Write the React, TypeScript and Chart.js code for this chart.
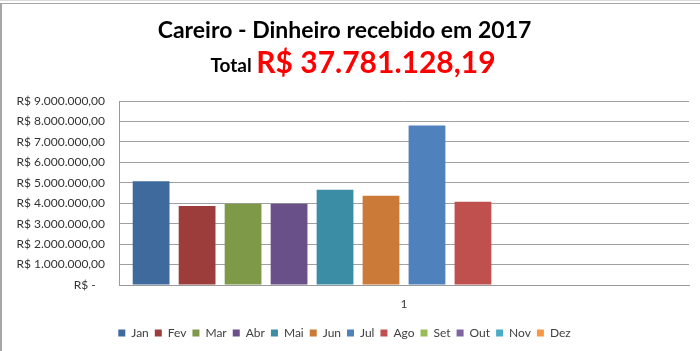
import React, { useEffect, useRef } from "react";
import { Chart, registerables } from "chart.js";

Chart.register(...registerables);

const TITLE = "Careiro - Dinheiro recebido em 2017";
const TOTAL_WORD = "Total ";
const TOTAL_VALUE = "R$ 37.781.128,19";

const categories = ["1"];
const months = ["Jan", "Fev", "Mar", "Abr", "Mai", "Jun", "Jul", "Ago", "Set", "Out", "Nov", "Dez"];
const monthValues = [5080000, 3870000, 3970000, 3970000, 4660000, 4360000, 7800000, 4070000, 0, 0, 0, 0];
const monthColors = [
  "#3E6A9E", "#9C3D3B", "#7E9A48", "#6A5088", "#3A8DA5", "#CC7A38",
  "#4F81BD", "#C0504D", "#9BBB59", "#8064A2", "#4BACC6", "#F79646",
];
const yTicks = [0, 1000000, 2000000, 3000000, 4000000, 5000000, 6000000, 7000000, 8000000, 9000000];

const FONT = "Lato, 'Open Sans', sans-serif";

function brl(v: number): string {
  if (v === 0) return "R$ -   ";
  const int = Math.round(v).toString().replace(/\B(?=(\d{3})+(?!\d))/g, ".");
  return "R$ " + int + ",00";
}

const decorPlugin = {
  id: "decor",
  beforeDraw(chart: any) {
    const ctx = chart.ctx;
    ctx.save();
    ctx.fillStyle = "#ffffff";
    ctx.fillRect(0, 0, chart.width, chart.height);
    ctx.strokeStyle = "#d9d9d9";
    ctx.lineWidth = 1;
    ctx.beginPath();
    ctx.moveTo(0, 0.5);
    ctx.lineTo(chart.width, 0.5);
    ctx.stroke();
    ctx.strokeStyle = "#a6a6a6";
    ctx.beginPath();
    ctx.moveTo(0, 3.5);
    ctx.lineTo(chart.width, 3.5);
    ctx.stroke();
    ctx.lineWidth = 2;
    ctx.beginPath();
    ctx.moveTo(1, 3);
    ctx.lineTo(1, chart.height);
    ctx.stroke();
    ctx.restore();
  },
  afterDraw(chart: any) {
    const ctx = chart.ctx;
    ctx.save();
    ctx.textBaseline = "alphabetic";
    ctx.font = `bold 19px ${FONT}`;
    const wa = ctx.measureText(TOTAL_WORD).width;
    ctx.font = `bold 30px ${FONT}`;
    const wb = ctx.measureText(TOTAL_VALUE).width;
    const x0 = 353 - (wa + wb) / 2;
    ctx.fillStyle = "#000000";
    ctx.font = `bold 19px ${FONT}`;
    ctx.fillText(TOTAL_WORD, x0, 72);
    ctx.fillStyle = "#FF0000";
    ctx.font = `bold 30px ${FONT}`;
    ctx.fillText(TOTAL_VALUE, x0 + wa, 73);
    ctx.restore();
  },
};

export default function App() {
  const ref = useRef<HTMLCanvasElement | null>(null);

  useEffect(() => {
    if (!ref.current) return;
    const chart = new Chart(ref.current, {
      type: "bar",
      data: {
        labels: categories,
        datasets: months.map((m, i) => ({
          label: m,
          data: [monthValues[i]],
          backgroundColor: monthColors[i],
          borderWidth: 0,
          barPercentage: 0.8,
          categoryPercentage: 0.968,
        })),
      },
      options: {
        animation: false,
        responsive: false,
        layout: { padding: { left: 0, right: 11, top: 0, bottom: 2 } },
        plugins: {
          tooltip: { enabled: false },
          title: {
            display: true,
            text: TITLE,
            color: "#000000",
            font: { family: FONT, size: 23, weight: "bold" },
            padding: { top: 17, bottom: 56.4 },
          },
          legend: {
            position: "bottom",
            labels: {
              boxWidth: 7,
              boxHeight: 7,
              padding: 6,
              color: "#404040",
              font: { family: FONT, size: 12 },
            },
          },
        },
        scales: {
          x: {
            grid: { display: false, drawTicks: false },
            border: { display: true, color: "#9a9a9a", width: 1 },
            ticks: { color: "#404040", font: { family: FONT, size: 12 }, padding: 12 },
            afterFit(scale: any) {
              scale.height = 36;
            },
          },
          y: {
            min: 0,
            max: 9000000,
            afterBuildTicks(scale: any) {
              scale.ticks = yTicks.map((v) => ({ value: v }));
            },
            grid: { color: "#a0a0a0", lineWidth: 1, drawTicks: false },
            border: { display: true, color: "#9a9a9a", width: 1 },
            ticks: {
              color: "#333333",
              font: { family: FONT, size: 12 },
              padding: 14,
              callback: (v: any) => brl(Number(v)),
            },
            afterFit(scale: any) {
              scale.width = 119;
            },
          },
        },
      },
      plugins: [decorPlugin],
    });
    return () => chart.destroy();
  }, []);

  return (
    <div style={{ position: "absolute", left: 0, top: 0, width: 700, height: 351 }}>
      <canvas ref={ref} width={700} height={351} />
    </div>
  );
}
